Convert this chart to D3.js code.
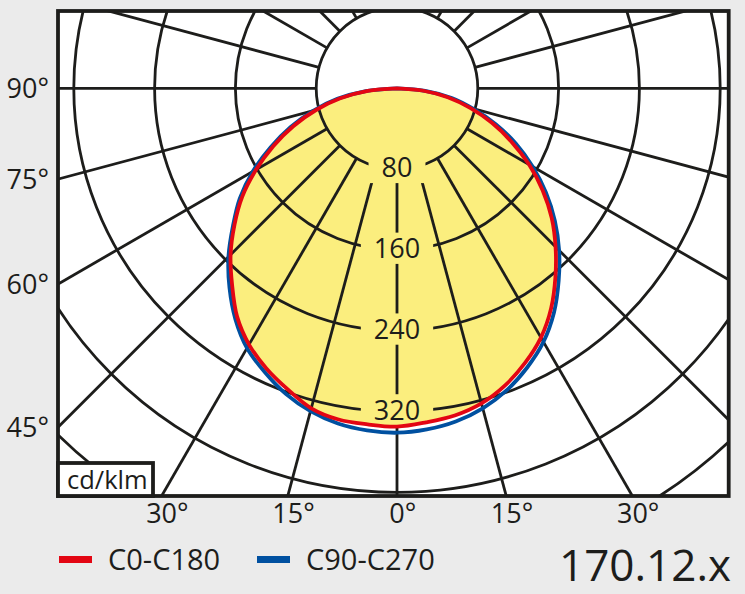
<!DOCTYPE html>
<html>
<head>
<meta charset="utf-8">
<script src="https://cdn.jsdelivr.net/npm/d3@7"></script>
<style>
  html, body { margin: 0; padding: 0; background: #ebebeb; }
  svg { display: block; font-family: "Open Sans", sans-serif; }
</style>
</head>
<body>
<svg id="chart" width="745" height="594"></svg>
<script>
// gamma angles (deg from nadir) and luminous intensity in cd/klm
const gammas = [0, 5, 10, 15, 20, 25, 30, 35, 40, 45, 50, 55, 60, 65, 70, 75, 80, 85, 90];
const c0   = [335, 332, 329, 323, 313, 300, 285, 266, 244, 222, 200, 176, 151, 125, 100, 75, 51, 25, 0];
const c180 = [335, 334, 333, 328, 317, 306, 293, 276, 254, 233, 210, 187, 161, 135, 109, 83, 57, 29, 0];
const c90  = [341, 339, 335, 328, 318, 305, 290, 271, 249, 227, 204, 180, 155, 130, 104, 78, 55, 28, 0];
const c270 = [341, 340, 337, 331, 322, 310, 297, 279, 258, 236, 212, 190, 165, 138, 112, 86, 60, 31, 0];

const ringValues = [80, 160, 240, 320, 400, 480, 560, 640];
const ringLabels = [80, 160, 240, 320];
const radialAngles = [0, 15, 30, 45, 60, 75, 90, 105, 120, 135, 150, 165, 180, 195, 210, 225, 240, 255, 270, 285, 300, 315, 330, 345];
const leftTicks = [90, 75, 60, 45];
const bottomTicks = [-30, -15, 0, 15, 30];
const legendNames = ["C0-C180", "C90-C270"];
const legendColors = ["#e30613", "#0050a0"];
const unitLabel = "cd/klm";
const codeLabel = "170.12.x";

const ink = "#1d1d1b";
const cx = 397, cy = 88.3;
const box = {left: 58, top: 11, right: 728.7, bottom: 496};
const r = d3.scaleLinear().domain([0, 80]).range([0, 80.8]);
const rad = d => d * Math.PI / 180;

const svg = d3.select("#chart");
const defs = svg.append("defs");

defs.append("clipPath").attr("id", "plotClip")
  .append("rect")
  .attr("x", box.left).attr("y", box.top)
  .attr("width", box.right - box.left).attr("height", box.bottom - box.top);

const mask = defs.append("mask").attr("id", "labelMask")
  .attr("maskUnits", "userSpaceOnUse")
  .attr("x", 0).attr("y", 0).attr("width", 745).attr("height", 594);
mask.append("rect").attr("width", 745).attr("height", 594).attr("fill", "white");

// plot background
svg.append("rect")
  .attr("x", box.left).attr("y", box.top)
  .attr("width", box.right - box.left).attr("height", box.bottom - box.top)
  .attr("fill", "white");

const plot = svg.append("g").attr("clip-path", "url(#plotClip)");

// build a closed curve: left half (negative gamma) then right half
function curvePoints(left, right) {
  const pts = [];
  for (let i = gammas.length - 1; i >= 0; i--) pts.push({g: -gammas[i], v: left[i]});
  for (let i = 1; i < gammas.length; i++) pts.push({g: gammas[i], v: right[i]});
  return pts;
}
const line = d3.lineRadial()
  .angle(d => Math.PI - rad(d.g))
  .radius(d => r(d.v))
  .curve(d3.curveCatmullRomClosed.alpha(0.5));

const redPts = curvePoints(c180, c0);
const bluePts = curvePoints(c270, c90);

plot.append("path")
  .attr("transform", `translate(${cx},${cy})`)
  .attr("d", line(redPts))
  .attr("fill", "#fbee7e");

// grid
const grid = plot.append("g").attr("mask", "url(#labelMask)");
grid.selectAll("circle.ring")
  .data(ringValues)
  .enter().append("circle")
  .attr("class", "ring")
  .attr("cx", cx).attr("cy", cy)
  .attr("r", d => r(d))
  .attr("fill", "none")
  .attr("stroke", ink)
  .attr("stroke-width", 2.8);

grid.selectAll("line.spoke")
  .data(radialAngles)
  .enter().append("line")
  .attr("class", "spoke")
  .attr("x1", d => cx + r(80) * Math.sin(rad(d)))
  .attr("y1", d => cy + r(80) * Math.cos(rad(d)))
  .attr("x2", d => cx + r(900) * Math.sin(rad(d)))
  .attr("y2", d => cy + r(900) * Math.cos(rad(d)))
  .attr("stroke", ink)
  .attr("stroke-width", 2.8);

// curves
plot.append("path")
  .attr("transform", `translate(${cx},${cy})`)
  .attr("d", line(bluePts))
  .attr("fill", "none")
  .attr("stroke", legendColors[1])
  .attr("stroke-width", 3.8);

plot.append("path")
  .attr("transform", `translate(${cx},${cy})`)
  .attr("d", line(redPts))
  .attr("fill", "none")
  .attr("stroke", legendColors[0])
  .attr("stroke-width", 3.8);

// ring labels, with gaps cut in the grid
const ringFs = 27;
const capH = 0.714 * ringFs;
svg.selectAll("text.ringlab")
  .data(ringLabels)
  .enter().append("text")
  .attr("class", "ringlab")
  .attr("x", cx)
  .attr("y", d => cy + r(d) + 8)
  .attr("text-anchor", "middle")
  .attr("font-size", ringFs)
  .attr("fill", ink)
  .text(d => d)
  .each(function(d) {
    const w = this.getComputedTextLength();
    const base = cy + r(d) + 8;
    mask.append("rect")
      .attr("x", cx - w / 2 - 13)
      .attr("y", base - capH - 6)
      .attr("width", w + 26)
      .attr("height", capH + 12)
      .attr("fill", "black");
  });

// frame
svg.append("rect")
  .attr("x", box.left).attr("y", box.top)
  .attr("width", box.right - box.left).attr("height", box.bottom - box.top)
  .attr("fill", "none")
  .attr("stroke", ink)
  .attr("stroke-width", 3.8);

// unit box
svg.append("rect")
  .attr("x", box.left).attr("y", 463)
  .attr("width", 95).attr("height", box.bottom - 463)
  .attr("fill", "white")
  .attr("stroke", ink)
  .attr("stroke-width", 3.8);
svg.append("text")
  .attr("x", 67).attr("y", 489)
  .attr("font-size", 25.5)
  .attr("fill", ink)
  .text(unitLabel);

// angle labels on the left
svg.selectAll("text.lefttick")
  .data(leftTicks)
  .enter().append("text")
  .attr("class", "lefttick")
  .attr("x", 49)
  .attr("y", d => (d === 90 ? cy : cy + (cx - box.left) / Math.tan(rad(d))) + 9.5)
  .attr("text-anchor", "end")
  .attr("font-size", 27)
  .attr("fill", ink)
  .text(d => d + "°");

// angle labels along the bottom, digits centred on the spoke
svg.selectAll("text.bottick")
  .data(bottomTicks)
  .enter().append("text")
  .attr("class", "bottick")
  .attr("y", 523)
  .attr("font-size", 27)
  .attr("fill", ink)
  .text(d => Math.abs(d) + "°")
  .each(function(d) {
    const n = String(Math.abs(d)).length;
    const numW = this.getSubStringLength(0, n);
    const hit = cx + (box.bottom - cy) * Math.tan(rad(d));
    d3.select(this).attr("x", hit - numW / 2);
  });

// legend
const legend = svg.append("g");
legendNames.forEach((name, i) => {
  const x0 = i === 0 ? 59 : 257;
  legend.append("rect")
    .attr("x", x0).attr("y", 556)
    .attr("width", 33).attr("height", 7)
    .attr("fill", legendColors[i]);
  legend.append("text")
    .attr("x", x0 + 49).attr("y", 570)
    .attr("font-size", 29)
    .attr("fill", ink)
    .text(name);
});

svg.append("text")
  .attr("x", 731).attr("y", 581)
  .attr("text-anchor", "end")
  .attr("font-size", 44)
  .attr("fill", ink)
  .text(codeLabel);
</script>
</body>
</html>
